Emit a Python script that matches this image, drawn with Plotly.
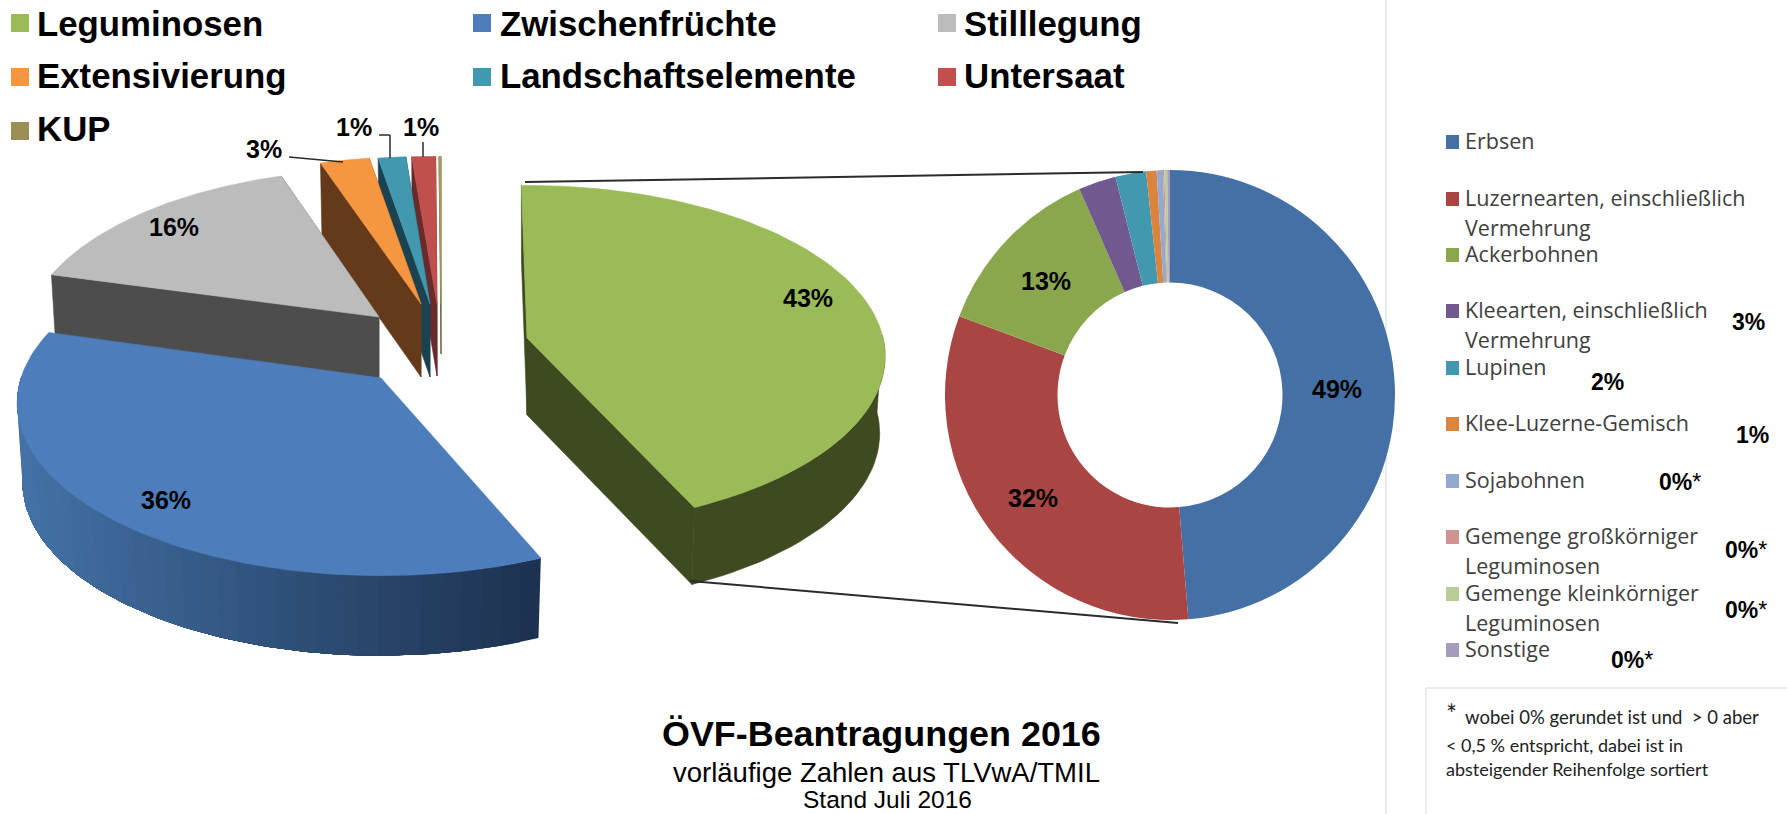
import math
import plotly.graph_objects as go

# ---------- data ----------
main_names = ["Leguminosen", "Zwischenfrüchte", "Stilllegung", "Extensivierung",
              "Landschaftselemente", "Untersaat", "KUP"]
main_values = [43.3, 35.8, 15.7, 2.5, 1.4, 1.2, 0.1]
main_labels = ["43%", "36%", "16%", "3%", "1%", "1%", ""]
main_colors = ["#9bbb59", "#4d7dba", "#bcbcbc", "#f59641", "#4198af", "#c0504d", "#a89a5c"]
wall_colors = ["#3e4a1f", None, "#4d4d4d", "#653a1a", "#1b4250", "#6b2a2a", "#6d6438"]

detail_names = ["Erbsen", "Luzernearten, einschließlich<br>Vermehrung", "Ackerbohnen",
                "Kleearten, einschließlich<br>Vermehrung", "Lupinen", "Klee-Luzerne-Gemisch",
                "Sojabohnen", "Gemenge großkörniger<br>Leguminosen",
                "Gemenge kleinkörniger<br>Leguminosen", "Sonstige"]
detail_values = [48.7, 32.0, 12.7, 2.7, 2.2, 0.75, 0.45, 0.1, 0.2, 0.2]
detail_colors = ["#4470a5", "#a94543", "#8aa74d", "#71588f", "#4298af",
                 "#db843d", "#93a9cf", "#d19392", "#b9cd96", "#a99bbd"]

# ---------- projection of the 3D pie (layout only) ----------
W, H = 1787, 814
START = -0.5
TURN = [-0.5, 2.0, 0.8, 0.8, 0.8, 0.6, 0.5]
APEX = [(527, 338), (381, 378), (379, 317), (421, 304), (430, 304), (437, 304), (441, 304)]
DEPTH = [77, 80, 80, 73, 73, 72, 50]
LEAN = 0.015
PLANE = [(356, 169, 0.1075), (360, 169, 0.145), (352, 169, 0.145), (362, 169, 0.145),
         (362, 169, 0.145), (362, 169, 0.145), (362, 169, 0.145)]
DRAW_ORDER = [6, 5, 4, 3, 2, 1, 0]


def project(i, deg):
    a, b, k = PLANE[i]
    t = math.radians(deg)
    X, Y = math.sin(t), -math.cos(t)
    w = 1 - k * Y
    return APEX[i][0] + a * X / w, APEX[i][1] + b * Y / w


def lower(i, p):
    return p[0] - LEAN * (p[0] - APEX[i][0]), p[1] + DEPTH[i]


total = sum(main_values)
spans = []
cur = START
for v, turn in zip(main_values, TURN):
    end = cur + v / total * 360
    spans.append((cur + turn, end + turn))
    cur = end

fig = go.Figure()


def poly(pts, color, lw=0.6):
    closed = list(pts) + [pts[0]]
    fig.add_trace(go.Scatter(x=[p[0] for p in closed], y=[p[1] for p in closed], mode="lines",
                             fill="toself", fillcolor=color,
                             line=dict(color=color, width=lw), hoverinfo="skip",
                             showlegend=False))


def mix(c0, c1, t):
    return "rgb(%d,%d,%d)" % tuple(round(c0[j] + (c1[j] - c0[j]) * t) for j in range(3))


N = 90
for i in DRAW_ORDER:
    a0, a1 = spans[i]
    degs = [a0 + (a1 - a0) * j / N for j in range(N + 1)]
    arc = [project(i, d) for d in degs]
    # only the part of the rim that faces the viewer gets an outer wall
    front = [project(i, d) for d in degs if -math.cos(math.radians(d)) >= -0.02]
    front_low = [lower(i, p) for p in front]
    apex = APEX[i]
    if wall_colors[i] is not None:
        col = wall_colors[i]
        if len(front) > 1:
            poly(front + front_low[::-1], col)
        for rim in (arc[0], arc[-1]):
            poly([apex, rim, lower(i, rim), lower(i, apex)], col)
    else:
        # gradient wall: dark at the right end, lighter towards the left, painted in overlapping bands
        xmin, xmax = min(p[0] for p in front), max(p[0] for p in front)
        for j in range(0, len(front) - 1, 2):
            t = (front[j][0] - xmin) / (xmax - xmin)
            poly(front[j:] + front_low[j:][::-1], mix((68, 114, 167), (29, 50, 80), t), lw=0)
    poly([apex] + arc, main_colors[i])

# ---------- doughnut ----------
cx, cy, R = 1170, 395, 225
fig.add_trace(go.Pie(values=detail_values, labels=[n.replace("<br>", " ") for n in detail_names],
                     marker=dict(colors=detail_colors, line=dict(width=0)),
                     hole=0.5, sort=False, direction="clockwise", rotation=0,
                     textinfo="none", showlegend=False, hoverinfo="label+percent",
                     domain=dict(x=[(cx - R) / W, (cx + R) / W],
                                 y=[1 - (cy + R) / H, 1 - (cy - R) / H])))

# ---------- shapes ----------
shapes = []


def rect(x0, y0, x1, y1, c):
    shapes.append(dict(type="rect", xref="x", yref="y", x0=x0, y0=y0, x1=x1, y1=y1,
                       fillcolor=c, line=dict(width=0)))


def seg(x0, y0, x1, y1, c="#2b2b2b", w=2, layer="above"):
    shapes.append(dict(type="line", xref="x", yref="y", x0=x0, y0=y0, x1=x1, y1=y1,
                       line=dict(color=c, width=w), layer=layer))


seg(525, 182, 1143, 172)
seg(690, 581, 1178, 623)
seg(289, 157, 343, 162, w=1.5)
seg(379, 135, 390, 135, w=1.5)
seg(390, 135, 390, 158, w=1.5)
seg(423, 142, 423, 157, w=1.5)
seg(1386, 0, 1386, 814, "#e4e4e4", 1.5, layer="below")
seg(1426, 688, 1787, 688, "#e6e6e6", 1.5)
seg(1426, 688, 1426, 814, "#e6e6e6", 1.5)

# ---------- text ----------
ann = []
BOLD = "Liberation Sans"


def txt(x, y, s, size, font=BOLD, bold=False, anchor="center", color="#000000"):
    ann.append(dict(x=x, y=y, xref="x", yref="y", text=("<b>%s</b>" % s) if bold else s,
                    showarrow=False, xanchor=anchor, yanchor="middle", align="left",
                    font=dict(family=font, size=size, color=color)))


# top legend
leg_col_sw = [11, 473, 938]
leg_col_tx = [35, 498, 962]
leg_row_sw = [14, 68, 122]
leg_row_tx = [23, 75, 128]
for n, name in enumerate(main_names):
    c, r = n % 3, n // 3
    rect(leg_col_sw[c], leg_row_sw[r], leg_col_sw[c] + 18, leg_row_sw[r] + 18,
         "#9b8f57" if name == "KUP" else main_colors[n])
    txt(leg_col_tx[c], leg_row_tx[r], name, 34.8, bold=True, anchor="left")

# pie percentages
label_pos = [(808, 298), (166, 500), (174, 227), (264, 149), (354, 127), (421, 127)]
for (x, y), s in zip(label_pos, main_labels):
    txt(x, y, s, 25, bold=True)
for (x, y), s in zip([(1337, 389), (1046, 281), (1033, 498)], ["49%", "13%", "32%"]):
    txt(x, y, s, 25, bold=True)

# right legend
rows = [140, 197, 253, 309, 366, 422, 479, 535, 592, 648]
LEGFONT = "Open Sans"
for y, name, col in zip(rows, detail_names, detail_colors):
    rect(1446, y - 5, 1459, y + 9, col)
    parts = name.split("<br>")
    txt(1463, y, parts[0], 21.5, font=LEGFONT, anchor="left", color="#404040")
    if len(parts) > 1:
        txt(1463, y + 30, parts[1], 21.5, font=LEGFONT, anchor="left", color="#404040")

side = [(1748, 322, "3%"), (1607, 382, "2%"), (1752, 435, "1%")]
for x, y, s in side:
    txt(x, y, s, 23, bold=True)
side0 = [(1680, 482), (1746, 550), (1746, 610), (1632, 660)]
for x, y in side0:
    txt(x, y, "<b>0%</b>*", 23)

# footnote
txt(1451, 714, "*", 26, font="Lato", color="#222222")
txt(1463, 717, "wobei 0% gerundet ist und  > 0 aber", 18.5, font="Lato", anchor="left", color="#222222")
txt(1444, 745, "&lt; 0,5 % entspricht, dabei ist in", 18, font="Lato", anchor="left", color="#222222")
txt(1444, 769, "absteigender Reihenfolge sortiert", 18, font="Lato", anchor="left", color="#222222")

# title block
txt(881, 734, "ÖVF-Beantragungen 2016", 35.9, bold=True)
txt(886, 772, "vorläufige Zahlen aus TLVwA/TMIL", 27.5)
txt(887, 799.5, "Stand Juli 2016", 24.5)

fig.update_layout(
    width=W, height=H, margin=dict(l=0, r=0, t=0, b=0),
    paper_bgcolor="#ffffff", plot_bgcolor="#ffffff",
    xaxis=dict(range=[0, W], visible=False, fixedrange=True),
    yaxis=dict(range=[H, 0], visible=False, fixedrange=True),
    shapes=shapes, annotations=ann, showlegend=False,
)
fig.write_html("out.html", config=dict(displayModeBar=False),
               post_script="document.body.style.margin='0';")
